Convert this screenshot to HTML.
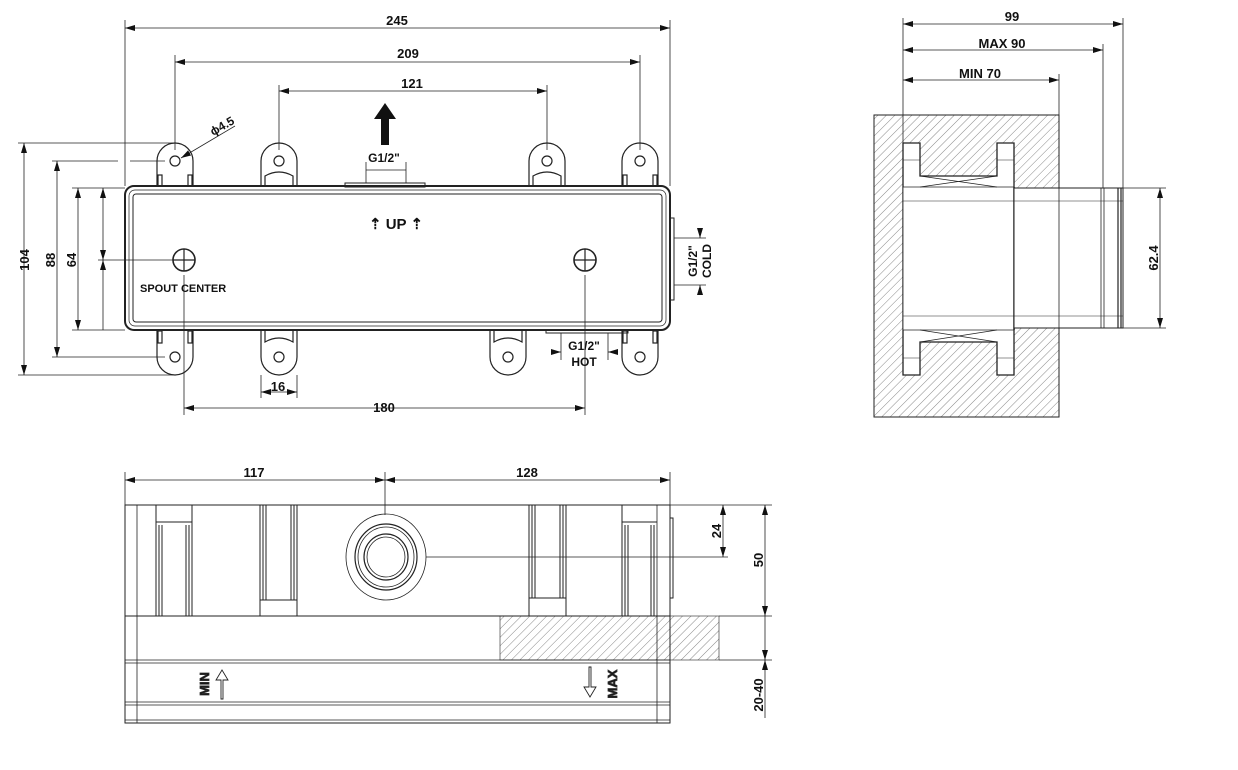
<!DOCTYPE html>
<html><head><meta charset="utf-8"><style>
html,body{margin:0;padding:0;background:#fff;}
svg{display:block;}
text{font-family:"Liberation Sans",sans-serif;font-weight:bold;fill:#111;}
</style></head><body>
<svg width="1238" height="770" viewBox="0 0 1238 770" xmlns="http://www.w3.org/2000/svg">
<defs>
<pattern id="h" width="6" height="6" patternUnits="userSpaceOnUse" patternTransform="rotate(45)">
<line x1="0" y1="0" x2="0" y2="6" stroke="#555" stroke-width="0.7"/>
</pattern>
<marker id="a" viewBox="0 0 10 6" refX="10" refY="3" markerWidth="10" markerHeight="6" orient="auto-start-reverse" markerUnits="userSpaceOnUse">
<path d="M0,0 L10,3 L0,6 z" fill="#111"/>
</marker>
</defs>
<g stroke="#222" fill="none" stroke-width="0.8">
<!-- ===== TOP VIEW ===== -->
<line x1="125" y1="20" x2="125" y2="186"/>
<line x1="670" y1="20" x2="670" y2="186"/>
<line x1="175" y1="55" x2="175" y2="150"/>
<line x1="640" y1="55" x2="640" y2="150"/>
<line x1="279" y1="85" x2="279" y2="150"/>
<line x1="547" y1="85" x2="547" y2="150"/>
<line x1="125" y1="28" x2="670" y2="28" marker-start="url(#a)" marker-end="url(#a)"/>
<line x1="175" y1="62" x2="640" y2="62" marker-start="url(#a)" marker-end="url(#a)"/>
<line x1="279" y1="91" x2="547" y2="91" marker-start="url(#a)" marker-end="url(#a)"/>
<g stroke-width="1.2">
<path d="M157,187 V161 A18,18 0 0 1 193,161 V187"/>
<circle cx="175" cy="161" r="5"/>
<rect x="158" y="175" width="4" height="12"/><rect x="188" y="175" width="4" height="12"/>
<path d="M261,187 V161 A18,18 0 0 1 297,161 V187"/>
<circle cx="279" cy="161" r="5"/>
<path d="M265,186 V176 Q279,168 293,176 V186"/>
<path d="M529,187 V161 A18,18 0 0 1 565,161 V187"/>
<circle cx="547" cy="161" r="5"/>
<path d="M533,186 V176 Q547,168 561,176 V186"/>
<path d="M622,187 V161 A18,18 0 0 1 658,161 V187"/>
<circle cx="640" cy="161" r="5"/>
<rect x="623" y="175" width="4" height="12"/><rect x="653" y="175" width="4" height="12"/>
<path d="M157,330 V357 A18,18 0 0 0 193,357 V330"/>
<circle cx="175" cy="357" r="5"/>
<rect x="158" y="331" width="4" height="12"/><rect x="188" y="331" width="4" height="12"/>
<path d="M261,330 V357 A18,18 0 0 0 297,357 V330"/>
<circle cx="279" cy="357" r="5"/>
<path d="M265,331 V342 Q279,334 293,342 V331"/>
<path d="M490,330 V357 A18,18 0 0 0 526,357 V330"/>
<circle cx="508" cy="357" r="5"/>
<path d="M494,331 V342 Q508,334 522,342 V331"/>
<path d="M622,330 V357 A18,18 0 0 0 658,357 V330"/>
<circle cx="640" cy="357" r="5"/>
<rect x="623" y="331" width="4" height="12"/><rect x="653" y="331" width="4" height="12"/>
</g>
<rect x="125" y="186" width="545" height="144" rx="9" fill="#fff" stroke-width="2"/>
<rect x="129" y="190" width="537" height="136" rx="6" stroke-width="0.7"/>
<rect x="133" y="194" width="529" height="128" rx="3" stroke-width="1"/>
<rect x="345" y="183" width="80" height="4" stroke-width="1"/>
<line x1="366" y1="162" x2="366" y2="183"/>
<line x1="406" y1="162" x2="406" y2="183"/>
<line x1="366" y1="170" x2="406" y2="170"/>
<rect x="546" y="330" width="82" height="3" stroke-width="1"/>
<line x1="561" y1="333" x2="561" y2="360"/>
<line x1="608" y1="333" x2="608" y2="360"/>
<line x1="555" y1="352" x2="561" y2="352" marker-end="url(#a)"/>
<line x1="614" y1="352" x2="608" y2="352" marker-end="url(#a)"/>
<rect x="670" y="218" width="4" height="82" stroke-width="1"/>
<line x1="674" y1="238" x2="706" y2="238"/>
<line x1="674" y1="285" x2="706" y2="285"/>
<line x1="700" y1="232" x2="700" y2="238" marker-end="url(#a)"/>
<line x1="700" y1="291" x2="700" y2="285" marker-end="url(#a)"/>
<circle cx="184" cy="260" r="11" stroke-width="1.6"/>
<line x1="173" y1="260" x2="195" y2="260" stroke-width="1.2"/>
<line x1="184" y1="249" x2="184" y2="271" stroke-width="1.2"/>
<circle cx="585" cy="260" r="11" stroke-width="1.6"/>
<line x1="574" y1="260" x2="596" y2="260" stroke-width="1.2"/>
<line x1="585" y1="249" x2="585" y2="271" stroke-width="1.2"/>
<line x1="184" y1="275" x2="184" y2="415"/>
<line x1="585" y1="275" x2="585" y2="415"/>
<line x1="184" y1="408" x2="585" y2="408" marker-start="url(#a)" marker-end="url(#a)"/>
<line x1="261" y1="375" x2="261" y2="398"/>
<line x1="297" y1="375" x2="297" y2="398"/>
<line x1="261" y1="392" x2="297" y2="392" marker-start="url(#a)" marker-end="url(#a)"/>
<line x1="181" y1="158" x2="235" y2="126" marker-start="url(#a)"/>
<line x1="18" y1="143" x2="175" y2="143"/>
<line x1="18" y1="375" x2="175" y2="375"/>
<line x1="52" y1="161" x2="118" y2="161"/><line x1="130" y1="161" x2="165" y2="161"/>
<line x1="52" y1="357" x2="165" y2="357"/>
<line x1="72" y1="188" x2="125" y2="188"/>
<line x1="72" y1="330" x2="125" y2="330"/>
<line x1="98" y1="260" x2="173" y2="260"/>
<line x1="24" y1="143" x2="24" y2="375" marker-start="url(#a)" marker-end="url(#a)"/>
<line x1="57" y1="161" x2="57" y2="357" marker-start="url(#a)" marker-end="url(#a)"/>
<line x1="78" y1="188" x2="78" y2="330" marker-start="url(#a)" marker-end="url(#a)"/>
<line x1="103" y1="188" x2="103" y2="260" marker-start="url(#a)" marker-end="url(#a)"/>
<line x1="103" y1="260" x2="103" y2="330" marker-start="url(#a)"/>
<!-- ===== BOTTOM VIEW ===== -->
<line x1="125" y1="472" x2="125" y2="505"/>
<line x1="670" y1="472" x2="670" y2="505"/>
<line x1="385" y1="472" x2="385" y2="515"/>
<line x1="125" y1="480" x2="385" y2="480" marker-start="url(#a)" marker-end="url(#a)"/>
<line x1="385" y1="480" x2="670" y2="480" marker-start="url(#a)" marker-end="url(#a)"/>
<rect x="500" y="616" width="219" height="44" fill="url(#h)" stroke-width="0.6"/>
<rect x="125" y="505" width="545" height="111" stroke-width="1"/>
<rect x="125" y="616" width="545" height="107" stroke-width="1"/>
<line x1="137" y1="505" x2="137" y2="723"/>
<line x1="657" y1="505" x2="657" y2="723"/>
<line x1="125" y1="660" x2="670" y2="660"/><line x1="125" y1="663" x2="670" y2="663"/>
<line x1="125" y1="702" x2="670" y2="702"/><line x1="125" y1="705" x2="670" y2="705"/>
<line x1="125" y1="720" x2="670" y2="720"/>
<g stroke-width="1">
<path d="M156,505 V616 M192,505 V616 M156,522 H192 M159,525 V616 M162,525 V616 M186,525 V616 M189,525 V616"/>
<path d="M260,505 V616 M297,505 V616 M260,600 H297 M263,505 V600 M266,505 V600 M291,505 V600 M294,505 V600"/>
<path d="M529,505 V616 M566,505 V616 M529,598 H566 M532,505 V598 M535,505 V598 M560,505 V598 M563,505 V598"/>
<path d="M622,505 V616 M622,522 H657 M625,525 V616 M628,525 V616 M651,525 V616 M654,525 V616"/>
</g>
<rect x="670" y="518" width="3" height="80" stroke-width="1"/>
<ellipse cx="386" cy="557" rx="40" ry="43"/>
<ellipse cx="386" cy="557" rx="31" ry="33" stroke-width="1.2"/>
<ellipse cx="386" cy="557" rx="28" ry="30"/>
<ellipse cx="386" cy="557" rx="22" ry="23" stroke-width="1.2"/>
<ellipse cx="386" cy="557" rx="19" ry="20"/>
<line x1="426" y1="557" x2="728" y2="557"/>
<line x1="670" y1="505" x2="772" y2="505"/>
<line x1="719" y1="616" x2="772" y2="616"/>
<line x1="719" y1="660" x2="772" y2="660"/>
<line x1="723" y1="505" x2="723" y2="557" marker-start="url(#a)" marker-end="url(#a)"/>
<line x1="765" y1="505" x2="765" y2="616" marker-start="url(#a)" marker-end="url(#a)"/>
<line x1="765" y1="616" x2="765" y2="660" marker-end="url(#a)"/>
<line x1="765" y1="660" x2="765" y2="718" marker-start="url(#a)"/>
<path d="M221,699 V680 H216 L222,670 L228,680 H223 V699 Z" stroke-width="0.9"/>
<path d="M589,667 V687 H584 L590,697 L596,687 H591 V667 Z" stroke-width="0.9"/>
<!-- ===== SIDE VIEW ===== -->
<rect x="874" y="115" width="185" height="302" fill="url(#h)" stroke-width="1"/>
<path d="M903,143 H920 V176 H997 V143 H1014 V375 H997 V342 H920 V375 H903 Z" fill="#fff" stroke-width="1.3"/>
<path d="M903,187 H1014 V330 H903 Z" fill="#fff" stroke-width="0.8"/>
<line x1="1014" y1="187" x2="1014" y2="330" stroke-width="1.5"/>
<path d="M920,176 L997,187 M920,187 L997,176" />
<path d="M920,342 L997,330 M920,330 L997,342" />
<line x1="903" y1="160" x2="920" y2="160" stroke-width="0.5"/><line x1="997" y1="160" x2="1014" y2="160" stroke-width="0.5"/>
<line x1="903" y1="358" x2="920" y2="358" stroke-width="0.5"/><line x1="997" y1="358" x2="1014" y2="358" stroke-width="0.5"/>
<line x1="903" y1="201" x2="1014" y2="201" stroke-width="0.5"/>
<line x1="903" y1="316" x2="1014" y2="316" stroke-width="0.5"/>
<rect x="1014" y="188" width="109" height="140" fill="#fff" stroke-width="1"/>
<line x1="1014" y1="201" x2="1123" y2="201" stroke-width="0.5"/>
<line x1="1014" y1="316" x2="1123" y2="316" stroke-width="0.5"/>
<line x1="1059" y1="188" x2="1059" y2="328"/>
<line x1="1101" y1="188" x2="1101" y2="328"/>
<line x1="1104" y1="188" x2="1104" y2="328"/>
<line x1="1118" y1="188" x2="1118" y2="328" stroke-width="1.2"/>
<line x1="1121" y1="188" x2="1121" y2="328" stroke-width="1.2"/>
<line x1="903" y1="18" x2="903" y2="143"/>
<line x1="1123" y1="18" x2="1123" y2="188"/>
<line x1="1103" y1="44" x2="1103" y2="188"/>
<line x1="1059" y1="74" x2="1059" y2="115"/>
<line x1="903" y1="24" x2="1123" y2="24" marker-start="url(#a)" marker-end="url(#a)"/>
<line x1="903" y1="50" x2="1103" y2="50" marker-start="url(#a)" marker-end="url(#a)"/>
<line x1="903" y1="80" x2="1059" y2="80" marker-start="url(#a)" marker-end="url(#a)"/>
<line x1="1123" y1="188" x2="1166" y2="188"/>
<line x1="1123" y1="328" x2="1166" y2="328"/>
<line x1="1160" y1="188" x2="1160" y2="328" marker-start="url(#a)" marker-end="url(#a)"/>
</g>
<path d="M381,145 V119 H374 L385,103 L396,119 H389 V145 Z" fill="#111"/>
<g font-size="13">
<text x="397" y="25" text-anchor="middle">245</text>
<text x="408" y="58" text-anchor="middle">209</text>
<text x="412" y="88" text-anchor="middle">121</text>
<text x="384" y="162" text-anchor="middle" font-size="12">G1/2"</text>
<text x="396" y="229" text-anchor="middle" font-size="15">⇡ UP ⇡</text>
<text x="140" y="292" font-size="11">SPOUT  CENTER</text>
<text x="584" y="350" text-anchor="middle" font-size="12">G1/2"</text>
<text x="584" y="366" text-anchor="middle" font-size="12">HOT</text>
<text x="384" y="412" text-anchor="middle">180</text>
<text x="278" y="391" text-anchor="middle">16</text>
<text x="213" y="136" font-size="12" transform="rotate(-30 213 136)">ϕ4.5</text>
<text transform="translate(29,260) rotate(-90)" text-anchor="middle">104</text>
<text transform="translate(55,260) rotate(-90)" text-anchor="middle">88</text>
<text transform="translate(76,260) rotate(-90)" text-anchor="middle">64</text>
<text transform="translate(697,261) rotate(-90)" text-anchor="middle" font-size="12">G1/2"</text>
<text transform="translate(711,261) rotate(-90)" text-anchor="middle" font-size="12">COLD</text>
<text x="254" y="477" text-anchor="middle">117</text>
<text x="527" y="477" text-anchor="middle">128</text>
<text transform="translate(721,531) rotate(-90)" text-anchor="middle">24</text>
<text transform="translate(763,560) rotate(-90)" text-anchor="middle">50</text>
<text transform="translate(763,695) rotate(-90)" text-anchor="middle">20-40</text>
<text transform="translate(209,684) rotate(-90)" text-anchor="middle" fill="#fff" stroke="#333" stroke-width="0.8">MIN</text>
<text transform="translate(617,684) rotate(-90)" text-anchor="middle" fill="#fff" stroke="#333" stroke-width="0.8">MAX</text>
<text x="1012" y="21" text-anchor="middle">99</text>
<text x="1002" y="48" text-anchor="middle">MAX  90</text>
<text x="980" y="78" text-anchor="middle">MIN  70</text>
<text transform="translate(1158,258) rotate(-90)" text-anchor="middle">62.4</text>
</g>
</svg>
</body></html>
